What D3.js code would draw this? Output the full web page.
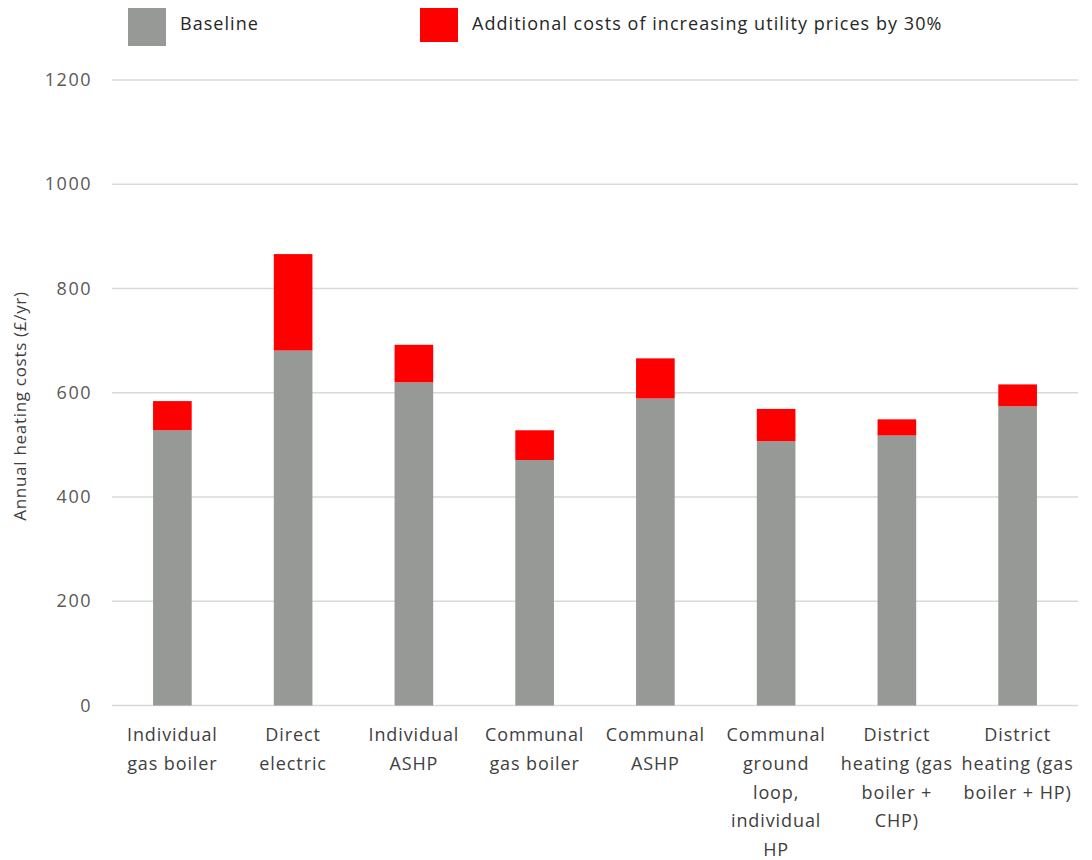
<!DOCTYPE html>
<html>
<head>
<meta charset="utf-8">
<script src="https://cdn.jsdelivr.net/npm/d3@7"></script>
<style>
  body { margin: 0; background: #fff; }
  svg text { font-family: "Open Sans", Lato, sans-serif; }
</style>
</head>
<body>
<div id="chart"></div>
<script>
// ── Data ────────────────────────────────────────────────────────────────
const categories = [
  'Individual gas boiler', 'Direct electric', 'Individual ASHP',
  'Communal gas boiler', 'Communal ASHP',
  'Communal ground loop, individual HP',
  'District heating (gas boiler + CHP)', 'District heating (gas boiler + HP)'
];
// how each category label wraps under the axis
const labelLines = [
  ['Individual', 'gas boiler'],
  ['Direct', 'electric'],
  ['Individual', 'ASHP'],
  ['Communal', 'gas boiler'],
  ['Communal', 'ASHP'],
  ['Communal', 'ground', 'loop,', 'individual', 'HP'],
  ['District', 'heating (gas', 'boiler +', 'CHP)'],
  ['District', 'heating (gas', 'boiler + HP)']
];
const baseline   = [528, 681, 620, 471, 589, 507, 518, 574];
const additional = [56, 185, 72, 57, 77, 62, 31, 42];
const yTicks = [0, 200, 400, 600, 800, 1000, 1200];
const seriesNames = ['Baseline', 'Additional costs of increasing utility prices by 30%'];
const seriesColors = ['#969995', '#ff0000'];

// ── Layout ──────────────────────────────────────────────────────────────
const W = 1092, H = 860;
const plotL = 112, plotR = 1078, plotT = 80, plotB = 705.5;

const svg = d3.select('#chart').append('svg')
  .attr('width', W).attr('height', H);

const x = d3.scaleBand()
  .domain(categories)
  .range([plotL, plotR])
  .paddingInner(0.68)
  .paddingOuter(0.34);

const y = d3.scaleLinear()
  .domain([0, 1200])
  .range([plotB, plotT]);

// ── Gridlines ──────────────────────────────────────────────────────────
svg.append('g')
  .selectAll('line')
  .data(yTicks)
  .join('line')
  .attr('x1', plotL).attr('x2', plotR)
  .attr('y1', d => y(d)).attr('y2', d => y(d))
  .attr('stroke', '#d9d9d9')
  .attr('stroke-width', 1.5);

// ── Y tick labels ──────────────────────────────────────────────────────
svg.append('g')
  .selectAll('text')
  .data(yTicks)
  .join('text')
  .attr('x', 92)
  .attr('y', d => y(d) + 6)
  .attr('text-anchor', 'end')
  .attr('font-size', 18)
  .attr('letter-spacing', 1.5)
  .attr('fill', '#595959')
  .text(d => d);

// Y title
svg.append('text')
  .attr('transform', `translate(26, 406) rotate(-90)`)
  .attr('text-anchor', 'middle')
  .attr('font-size', 17)
  .attr('letter-spacing', 0.7)
  .attr('fill', '#404040')
  .text('Annual heating costs (£/yr)');

// ── Stacked bars ────────────────────────────────────────────────────────
const rows = categories.map((c, i) => ({ cat: c, base: baseline[i], add: additional[i] }));
const stack = d3.stack().keys(['base', 'add'])(rows);

svg.append('g')
  .selectAll('g')
  .data(stack)
  .join('g')
  .attr('fill', (d, i) => seriesColors[i])
  .selectAll('rect')
  .data(d => d)
  .join('rect')
  .attr('x', d => x(d.data.cat))
  .attr('width', x.bandwidth())
  .attr('y', d => y(d[1]))
  .attr('height', d => y(d[0]) - y(d[1]));

// ── Category labels ─────────────────────────────────────────────────────
const catG = svg.append('g');
categories.forEach((c, i) => {
  const cx = x(c) + x.bandwidth() / 2;
  const t = catG.append('text')
    .attr('x', cx)
    .attr('y', 741)
    .attr('text-anchor', 'middle')
    .attr('font-size', 18)
    .attr('letter-spacing', 0.9)
    .attr('fill', '#404040');
  labelLines[i].forEach((ln, j) => {
    t.append('tspan')
      .attr('x', cx)
      .attr('y', 741 + j * 28.8)
      .text(ln);
  });
});

// ── Legend ──────────────────────────────────────────────────────────────
const legX = [128, 420];
const leg = svg.append('g');
seriesNames.forEach((name, i) => {
  leg.append('rect')
    .attr('x', legX[i]).attr('y', 8)
    .attr('width', 38).attr('height', i === 0 ? 38 : 34)
    .attr('fill', seriesColors[i]);
  leg.append('text')
    .attr('x', legX[i] + 52)
    .attr('y', 30)
    .attr('font-size', 18)
    .attr('letter-spacing', 1.05)
    .attr('fill', '#262626')
    .text(name);
});
</script>
</body>
</html>
